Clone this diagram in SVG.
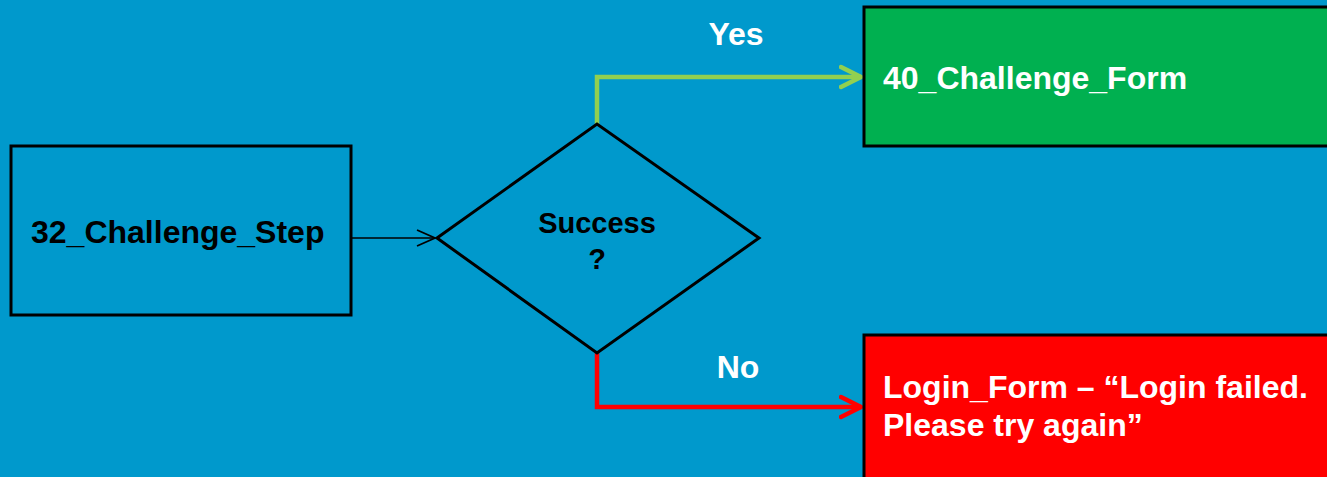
<svg xmlns="http://www.w3.org/2000/svg" width="1327" height="477" viewBox="0 0 1327 477">
<style>
.t{font-family:"Liberation Sans",Arial,sans-serif;font-weight:bold;font-size:32px}
.w{fill:#fff}
.k{fill:#000}
.box{stroke:#000;stroke-width:3}
</style>
<defs>
<marker id="ag" markerUnits="userSpaceOnUse" markerWidth="30" markerHeight="30" refX="22" refY="12" orient="auto" viewBox="0 0 30 24"><path d="M2,2 L22,12 L2,22" fill="none" stroke="#92D050" stroke-width="4.5" stroke-linecap="round" stroke-linejoin="round"/></marker>
<marker id="ar" markerUnits="userSpaceOnUse" markerWidth="30" markerHeight="30" refX="22" refY="12" orient="auto" viewBox="0 0 30 24"><path d="M2,2 L22,12 L2,22" fill="none" stroke="#FF0000" stroke-width="4.5" stroke-linecap="round" stroke-linejoin="round"/></marker>
<marker id="ak" markerUnits="userSpaceOnUse" markerWidth="30" markerHeight="30" refX="22" refY="12" orient="auto" viewBox="0 0 30 24"><path d="M4,4 L22,12 L4,20" fill="none" stroke="#000" stroke-width="1.8"/></marker>
</defs>
<rect width="1327" height="477" fill="#0099CC"/>
<g id="connectors">
<path d="M351,238 H435" fill="none" stroke="#000" stroke-width="1.5" marker-end="url(#ak)"/>
<path d="M597,124 V77 H861" fill="none" stroke="#92D050" stroke-width="4.5" marker-end="url(#ag)"/>
<path d="M597,353 V407 H861" fill="none" stroke="#FF0000" stroke-width="4.5" marker-end="url(#ar)"/>
<text class="t w" x="736" y="45" text-anchor="middle">Yes</text>
<text class="t w" x="738" y="378" text-anchor="middle">No</text>
</g>
<g id="n32">
<rect class="box" x="11" y="146" width="340" height="169" fill="#0099CC"/>
<text class="t k" x="31" y="243">32_Challenge_Step</text>
</g>
<g id="success">
<polygon class="box" points="437,238 597,124 759,238 597,353" fill="#0099CC"/>
<text class="t k" x="597" y="233" text-anchor="middle" style="font-size:29px">Success</text>
<text class="t k" x="597" y="269" text-anchor="middle" style="font-size:29px">?</text>
</g>
<g id="n40">
<rect class="box" x="864" y="7" width="470" height="139" fill="#00B050"/>
<text class="t w" x="883" y="89">40_Challenge_Form</text>
</g>
<g id="login">
<rect class="box" x="864" y="335" width="470" height="150" fill="#FF0000"/>
<text class="t w" x="883" y="398">Login_Form – “Login failed.</text>
<text class="t w" x="883" y="436">Please try again”</text>
</g>
</svg>
